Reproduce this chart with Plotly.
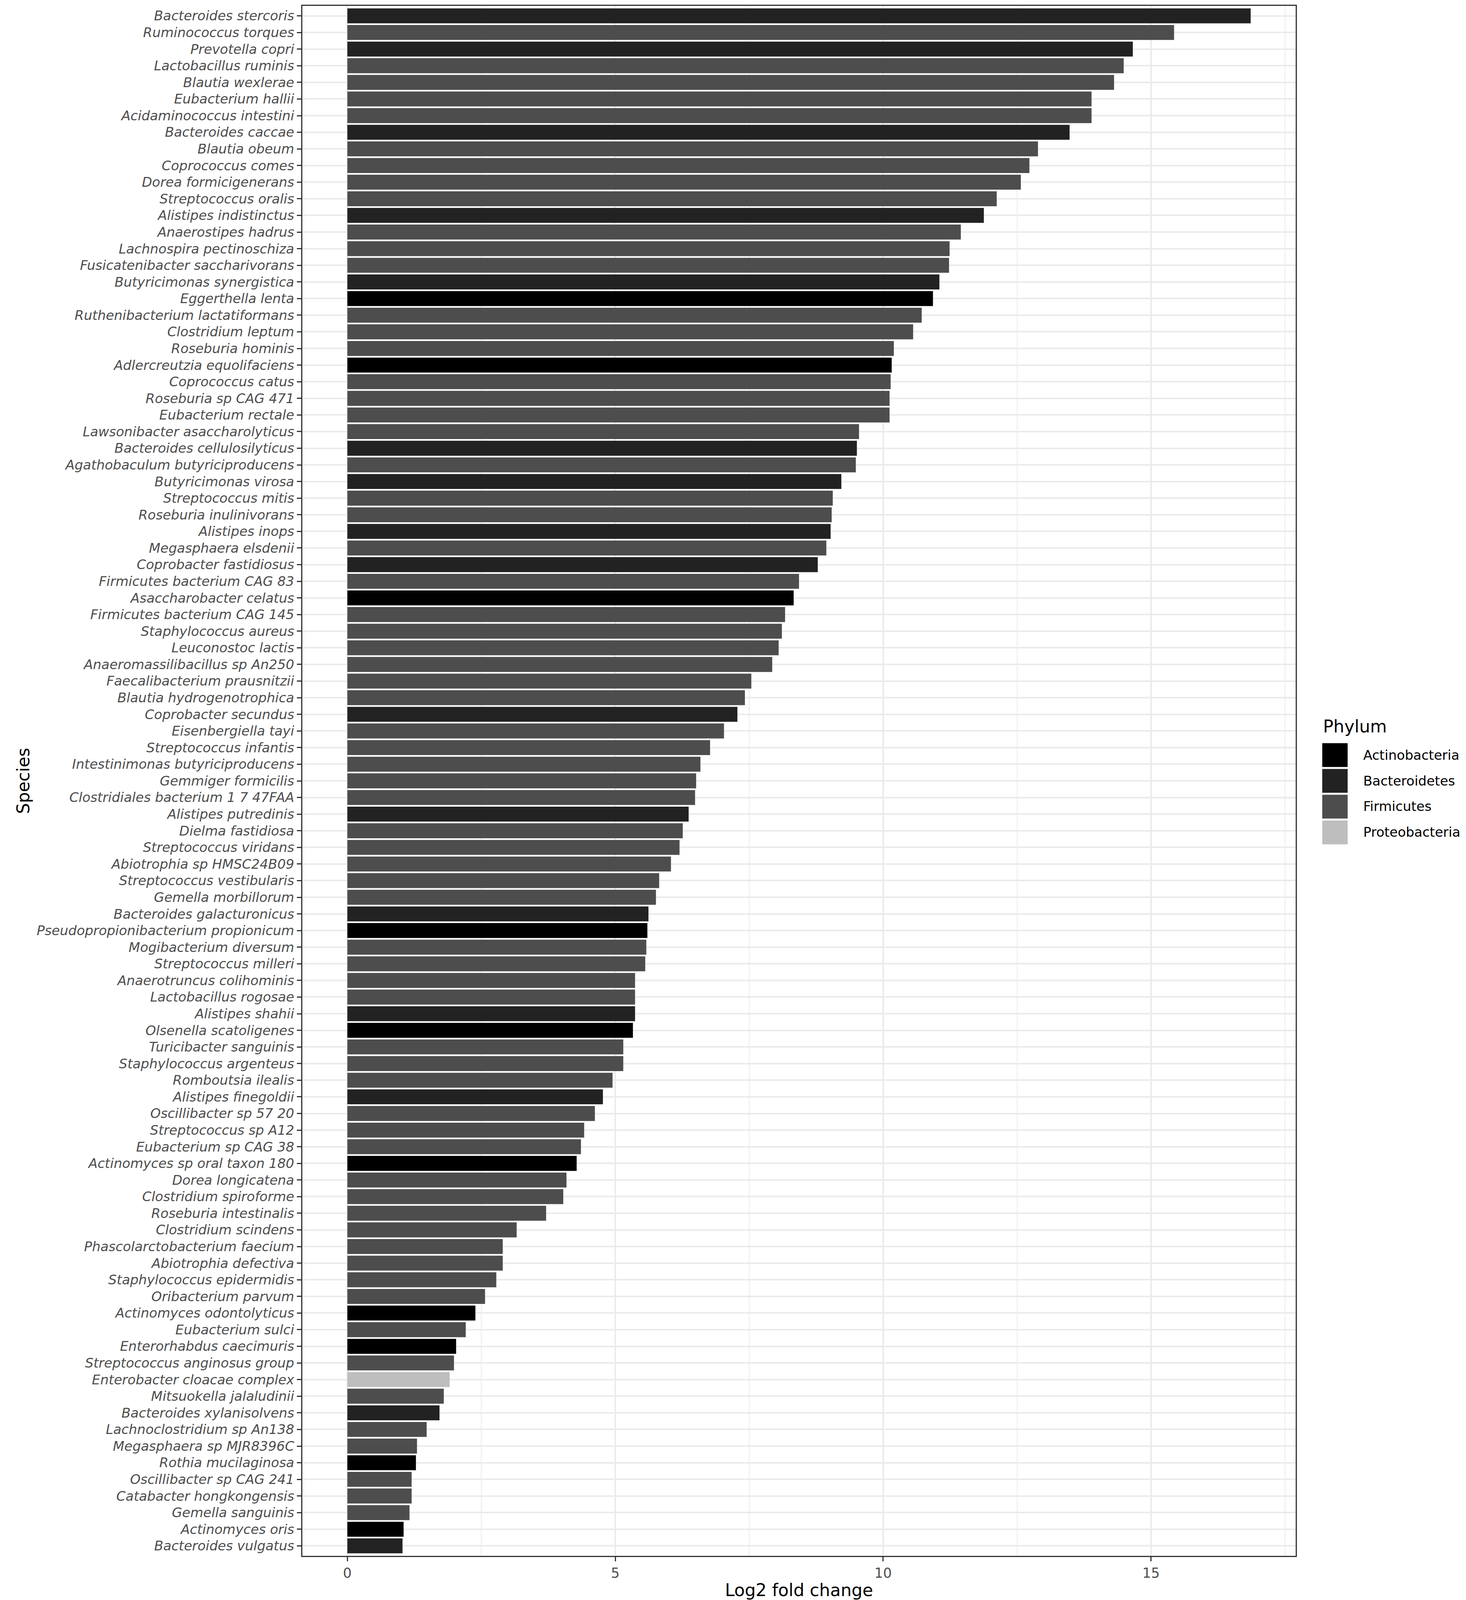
import plotly.graph_objects as go

# species in plotted order, top to bottom
species = [
    "Bacteroides stercoris", "Ruminococcus torques", "Prevotella copri", "Lactobacillus ruminis",
    "Blautia wexlerae", "Eubacterium hallii", "Acidaminococcus intestini", "Bacteroides caccae",
    "Blautia obeum", "Coprococcus comes", "Dorea formicigenerans", "Streptococcus oralis",
    "Alistipes indistinctus", "Anaerostipes hadrus", "Lachnospira pectinoschiza",
    "Fusicatenibacter saccharivorans", "Butyricimonas synergistica", "Eggerthella lenta",
    "Ruthenibacterium lactatiformans", "Clostridium leptum", "Roseburia hominis",
    "Adlercreutzia equolifaciens", "Coprococcus catus", "Roseburia sp CAG 471", "Eubacterium rectale",
    "Lawsonibacter asaccharolyticus", "Bacteroides cellulosilyticus", "Agathobaculum butyriciproducens",
    "Butyricimonas virosa", "Streptococcus mitis", "Roseburia inulinivorans", "Alistipes inops",
    "Megasphaera elsdenii", "Coprobacter fastidiosus", "Firmicutes bacterium CAG 83",
    "Asaccharobacter celatus", "Firmicutes bacterium CAG 145", "Staphylococcus aureus",
    "Leuconostoc lactis", "Anaeromassilibacillus sp An250", "Faecalibacterium prausnitzii",
    "Blautia hydrogenotrophica", "Coprobacter secundus", "Eisenbergiella tayi", "Streptococcus infantis",
    "Intestinimonas butyriciproducens", "Gemmiger formicilis", "Clostridiales bacterium 1 7 47FAA",
    "Alistipes putredinis", "Dielma fastidiosa", "Streptococcus viridans", "Abiotrophia sp HMSC24B09",
    "Streptococcus vestibularis", "Gemella morbillorum", "Bacteroides galacturonicus",
    "Pseudopropionibacterium propionicum", "Mogibacterium diversum", "Streptococcus milleri",
    "Anaerotruncus colihominis", "Lactobacillus rogosae", "Alistipes shahii", "Olsenella scatoligenes",
    "Turicibacter sanguinis", "Staphylococcus argenteus", "Romboutsia ilealis", "Alistipes finegoldii",
    "Oscillibacter sp 57 20", "Streptococcus sp A12", "Eubacterium sp CAG 38",
    "Actinomyces sp oral taxon 180", "Dorea longicatena", "Clostridium spiroforme",
    "Roseburia intestinalis", "Clostridium scindens", "Phascolarctobacterium faecium",
    "Abiotrophia defectiva", "Staphylococcus epidermidis", "Oribacterium parvum",
    "Actinomyces odontolyticus", "Eubacterium sulci", "Enterorhabdus caecimuris",
    "Streptococcus anginosus group", "Enterobacter cloacae complex", "Mitsuokella jalaludinii",
    "Bacteroides xylanisolvens", "Lachnoclostridium sp An138", "Megasphaera sp MJR8396C",
    "Rothia mucilaginosa", "Oscillibacter sp CAG 241", "Catabacter hongkongensis",
    "Gemella sanguinis", "Actinomyces oris", "Bacteroides vulgatus",
]

log2fc = [
    16.86, 15.43, 14.66, 14.49, 14.31, 13.89, 13.89, 13.48, 12.89, 12.73,
    12.57, 12.12, 11.88, 11.45, 11.24, 11.23, 11.05, 10.93, 10.72, 10.56,
    10.20, 10.16, 10.14, 10.12, 10.12, 9.55, 9.51, 9.49, 9.22, 9.06,
    9.04, 9.02, 8.94, 8.78, 8.43, 8.33, 8.17, 8.11, 8.05, 7.93,
    7.54, 7.42, 7.28, 7.03, 6.77, 6.59, 6.51, 6.49, 6.37, 6.26,
    6.20, 6.04, 5.82, 5.76, 5.62, 5.60, 5.58, 5.56, 5.37, 5.37,
    5.37, 5.33, 5.15, 5.15, 4.95, 4.77, 4.62, 4.42, 4.36, 4.28,
    4.09, 4.03, 3.71, 3.16, 2.90, 2.90, 2.78, 2.57, 2.39, 2.21,
    2.03, 1.99, 1.91, 1.80, 1.72, 1.48, 1.30, 1.28, 1.20, 1.20,
    1.16, 1.05, 1.03,
]

actino = ["Eggerthella lenta", "Adlercreutzia equolifaciens", "Asaccharobacter celatus",
          "Pseudopropionibacterium propionicum", "Olsenella scatoligenes",
          "Actinomyces sp oral taxon 180", "Actinomyces odontolyticus",
          "Enterorhabdus caecimuris", "Rothia mucilaginosa", "Actinomyces oris"]
bactero = ["Bacteroides stercoris", "Prevotella copri", "Bacteroides caccae", "Alistipes indistinctus",
           "Butyricimonas synergistica", "Bacteroides cellulosilyticus", "Butyricimonas virosa",
           "Alistipes inops", "Coprobacter fastidiosus", "Coprobacter secundus", "Alistipes putredinis",
           "Bacteroides galacturonicus", "Alistipes shahii", "Alistipes finegoldii",
           "Bacteroides xylanisolvens", "Bacteroides vulgatus"]
proteo = ["Enterobacter cloacae complex"]

phyla = ["Actinobacteria", "Bacteroidetes", "Firmicutes", "Proteobacteria"]
fills = ["#000000", "#222222", "#4D4D4D", "#BEBEBE"]


def phylum_of(s):
    if s in actino:
        return "Actinobacteria"
    if s in bactero:
        return "Bacteroidetes"
    if s in proteo:
        return "Proteobacteria"
    return "Firmicutes"


phylum = [phylum_of(s) for s in species]

fig = go.Figure()
for p, c in zip(phyla, fills):
    xs = [v for v, q in zip(log2fc, phylum) if q == p]
    ys = [s for s, q in zip(species, phylum) if q == p]
    fig.add_trace(go.Bar(x=xs, y=ys, orientation="h", name=p, width=0.9,
                         marker=dict(color=c, line=dict(width=0)), showlegend=False))

# figure size fitted to the visible page area (body margin of 8px)
W, H = 3737, 4088
L, R, T, B = 766, 3309, 4, 3975


def px(x):
    return (x - L) / (R - L)


def py(y):
    return (B - y) / (B - T)


# hand-built legend so the keys are big squares like ggplot's
shapes = []
annots = [dict(x=px(3377), y=py(1850), xref="paper", yref="paper", text="Phylum",
               showarrow=False, xanchor="left", yanchor="middle",
               font=dict(size=44, color="black"))]
for i, (p, c) in enumerate(zip(phyla, fills)):
    top = 1893 + i * 66
    shapes.append(dict(type="rect", xref="paper", yref="paper",
                       x0=px(3377), x1=px(3442), y0=py(top), y1=py(top + 61),
                       fillcolor=c, line=dict(width=0)))
    annots.append(dict(x=px(3480), y=py(top + 30), xref="paper", yref="paper", text=p,
                       showarrow=False, xanchor="left", yanchor="middle",
                       font=dict(size=34, color="black")))

fig.update_layout(
    width=W, height=H,
    margin=dict(l=L, r=W - R, t=T, b=H - B),
    plot_bgcolor="white", paper_bgcolor="white",
    barmode="overlay", bargap=0.1,
    font=dict(family="DejaVu Sans", size=34, color="black"),
    shapes=shapes, annotations=annots,
)
fig.update_xaxes(
    range=[-0.84, 17.7], tickvals=[0, 5, 10, 15], ticks="outside", ticklen=11,
    tickwidth=3, tickcolor="#333333", tickfont=dict(size=35, color="#4D4D4D"),
    showgrid=True, gridcolor="#EBEBEB", gridwidth=4,
    minor=dict(dtick=2.5, tick0=0, showgrid=True, gridcolor="#EBEBEB", gridwidth=2),
    showline=True, mirror=True, linecolor="#333333", linewidth=3, zeroline=False,
    title=dict(text="Log2 fold change", font=dict(size=44, color="black"), standoff=14),
)
fig.update_yaxes(
    categoryorder="array", categoryarray=species[::-1], range=[-0.6, len(species) - 0.4],
    tickvals=species, ticktext=["<i>" + s + "</i>" for s in species],
    ticks="outside", ticklen=11, tickwidth=3, tickcolor="#333333",
    tickfont=dict(size=34, color="#4D4D4D"),
    showgrid=True, gridcolor="#EBEBEB", gridwidth=4,
    showline=True, mirror=True, linecolor="#333333", linewidth=3, zeroline=False,
    title=dict(text="Species", font=dict(size=44, color="black"), standoff=5),
)

fig.write_html("out.html")
